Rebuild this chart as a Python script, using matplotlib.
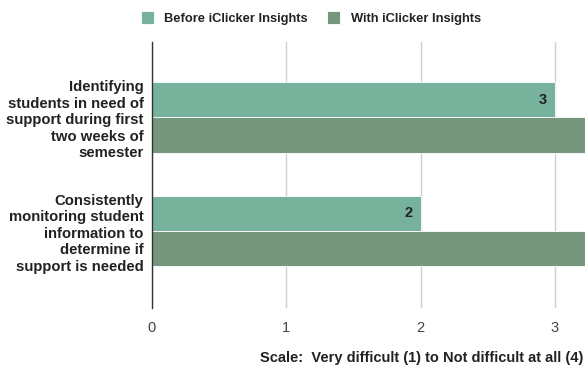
import matplotlib
matplotlib.use("Agg")
import matplotlib.pyplot as plt
import numpy as np

categories = [
    "Identifying\nstudents in need of\nsupport during first\ntwo weeks of\nsemester",
    "Consistently\nmonitoring student\ninformation to\ndetermine if\nsupport is needed",
]
series_names = ["Before iClicker Insights", "With iClicker Insights"]
before_vals = [3, 2]
with_vals = [4, 4]
x_ticks = [0, 1, 2, 3]
x_label = "Scale:  Very difficult (1) to Not difficult at all (4)"

colors = ["#77b39c", "#76977d"]

plt.rcParams['font.family'] = ['Liberation Sans', 'DejaVu Sans']

fig = plt.figure(figsize=(5.85, 3.74), dpi=100)
ax = fig.add_axes([152/585, 1-308/374, (585-152)/585, (308-42)/374])

y = np.arange(len(categories))
h = 0.31
b1 = ax.barh(y - h/2, before_vals, height=h, color=colors[0], edgecolor="white", linewidth=0.6, label=series_names[0], zorder=3)
b2 = ax.barh(y + h/2, with_vals, height=h, color=colors[1], edgecolor="white", linewidth=0.6, label=series_names[1], zorder=3)

ax.set_xlim(0, 3.224)
ax.set_ylim(1.678, -0.665)
ax.set_xticks(x_ticks)
ax.set_xticklabels([str(t) for t in x_ticks], fontsize=10.5, color="#444444")
ax.set_yticks(y)
ax.set_yticklabels(categories, fontsize=10.7, fontweight="bold", color="#222222", linespacing=1.22)
ax.tick_params(axis="both", length=0)
ax.tick_params(axis="x", pad=9)
ax.tick_params(axis="y", pad=6)
ax.grid(axis="x", color="#d0d0d0", linewidth=1, zorder=0)
for s in ["top", "right", "bottom"]:
    ax.spines[s].set_visible(False)
ax.spines["left"].set_color("#333333")
ax.spines["left"].set_linewidth(1)
ax.spines["left"].set_zorder(4)

for rect, v in zip(b1, before_vals):
    ax.text(v - 0.06, rect.get_y() + rect.get_height()/2, str(v), ha="right", va="center",
            fontsize=10.5, fontweight="bold", color="#222222", zorder=5)

fig.text(583/585, 1-358/374, x_label, ha="right", va="center", fontsize=10.5, fontweight="bold", color="#222222")

leg = fig.legend(handles=[b1, b2], labels=series_names, loc="center", bbox_to_anchor=(311/585, 1-18/374),
                 ncol=2, frameon=False, fontsize=9.3, handlelength=1.0, handleheight=1.1,
                 columnspacing=1.5, handletextpad=0.8)
for t in leg.get_texts():
    t.set_fontweight("bold")
    t.set_color("#222222")

fig.savefig("out.png", dpi=100)
